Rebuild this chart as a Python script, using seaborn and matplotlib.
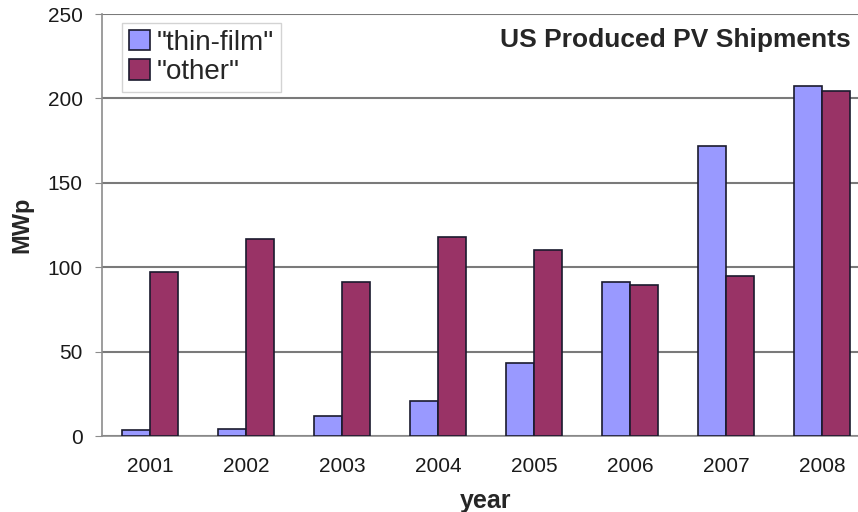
import numpy as np
import pandas as pd
import matplotlib
matplotlib.use("Agg")
import matplotlib.pyplot as plt
import seaborn as sns

years = ["2001", "2002", "2003", "2004", "2005", "2006", "2007", "2008"]
thin_film = [3.7, 4.3, 12, 21, 43.4, 91, 172, 207.5]
other = [97, 116.5, 91.5, 118, 110, 89.5, 94.7, 204.3]
series_names = ['"thin-film"', '"other"']

sns.set_style("white")
plt.rcParams['font.family'] = ['Liberation Sans', 'DejaVu Sans']

df = pd.DataFrame({
    "year": years * 2,
    "MWp": thin_film + other,
    "series": [series_names[0]] * len(years) + [series_names[1]] * len(years),
})

fig = plt.figure(figsize=(8.58, 5.12), dpi=100)
ax = fig.add_axes([102 / 858, 76 / 512, 768 / 858, 422 / 512])

sns.barplot(data=df, x="year", y="MWp", hue="series", order=years,
            hue_order=series_names, palette=["#9999FF", "#993366"],
            saturation=1, width=0.58, edgecolor="#1a1a2e", linewidth=1.2,
            ax=ax, zorder=3)

ax.set_ylim(0, 250)
ax.set_yticks([0, 50, 100, 150, 200, 250])
ax.yaxis.grid(True, color="#7a7a7a", linewidth=1.5, zorder=0)
ax.set_axisbelow(True)

for s in ["top", "right"]:
    ax.spines[s].set_visible(False)
for s in ["left", "bottom"]:
    ax.spines[s].set_color("#8c8c8c")
    ax.spines[s].set_linewidth(1.2)

ax.set_xticks(np.arange(-0.5, len(years), 1), minor=True)
ax.tick_params(axis="x", which="major", length=0, labelsize=15, pad=15)
ax.tick_params(axis="x", which="minor", length=5, color="#8c8c8c", direction="out")
ax.tick_params(axis="y", which="major", length=5, color="#8c8c8c", labelsize=15,
               left=True, pad=9)
for t in ax.get_xticklabels() + ax.get_yticklabels():
    t.set_color("#1a1a1a")

ax.set_xlabel("year", fontsize=18, fontweight="bold")
ax.set_ylabel("MWp", fontsize=17, fontweight="bold")
ax.xaxis.set_label_coords(0.5, -0.125)
ax.yaxis.set_label_coords(-0.09, 0.5)

leg = ax.legend(loc="upper left", bbox_to_anchor=(0.026, 0.979), fontsize=20,
                frameon=True, fancybox=False, edgecolor="#c8c8c8",
                handlelength=0.75, handleheight=0.75, handletextpad=0.25,
                borderpad=0.25, labelspacing=0.12, borderaxespad=0, title=None)
leg.get_frame().set_linewidth(1.0)

fig.text(851 / 858, 1 - 40 / 512, "US Produced PV Shipments", ha="right",
         va="center", fontsize=19, fontweight="bold")

fig.savefig("out.png", dpi=100)
